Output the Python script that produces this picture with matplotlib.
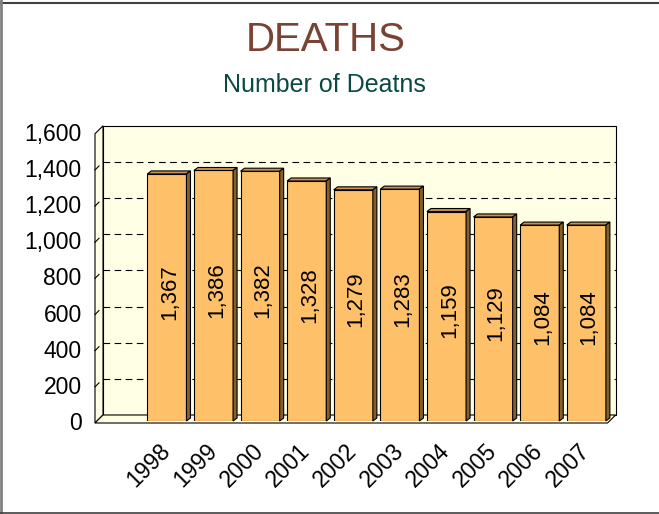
import matplotlib
matplotlib.use("Agg")
import matplotlib.pyplot as plt
from matplotlib.patches import Polygon
from matplotlib.lines import Line2D

plt.rcParams['font.family'] = ['Liberation Sans', 'DejaVu Sans']

years = ['1998', '1999', '2000', '2001', '2002', '2003', '2004', '2005', '2006', '2007']
deaths = [1367, 1386, 1382, 1328, 1279, 1283, 1159, 1129, 1084, 1084]
y_ticks = [0, 200, 400, 600, 800, 1000, 1200, 1400, 1600]

front_col = '#FFC06A'
top_col = '#C8914E'
side_col = '#85602F'
wall_col = '#FFFFE6'

W, H = 659, 514
fig = plt.figure(figsize=(W / 100, H / 100), dpi=100)
ax = fig.add_axes([97 / W, (H - 421) / H, 512.6 / W, 289.2 / H])
ax.set_xlim(-1.5, 9.5)
ax.set_ylim(0, 1600)
ax.patch.set_visible(False)
for s in ax.spines.values():
    s.set_visible(False)


def shifted(x, y, dx, dy):
    # move a data point by some pixels (for the 3d look)
    px, py = ax.transData.transform((x, y))
    return ax.transData.inverted().transform((px + dx, py + dy))


x0, x1 = -1.5, 9.5
front = (-2, -2)
back = (6, 6)

# back wall
ax.add_patch(Polygon([shifted(x0, 0, *back), shifted(x1, 0, *back),
                      shifted(x1, 1600, *back), shifted(x0, 1600, *back)],
                     closed=True, fc=wall_col, ec='black', lw=0.8, zorder=0, clip_on=False))
# left wall
ax.add_patch(Polygon([shifted(x0, 0, *front), shifted(x0, 0, *back),
                      shifted(x0, 1600, *back), shifted(x0, 1600, *front)],
                     closed=True, fc=wall_col, ec='black', lw=0.8, zorder=0, clip_on=False))
# floor
ax.add_patch(Polygon([shifted(x0, 0, *front), shifted(x1, 0, *front),
                      shifted(x1, 0, *back), shifted(x0, 0, *back)],
                     closed=True, fc=wall_col, ec='black', lw=0.8, zorder=0.5, clip_on=False))

# gridlines on the back wall + little ticks on the left wall
for t in y_ticks[1:-1]:
    a = shifted(x0, t, *back)
    b = shifted(x1, t, *back)
    ax.plot([a[0], b[0]], [a[1], b[1]], color='black', lw=0.8, ls=(0, (6, 4)),
            zorder=0.2, clip_on=False)
    c = shifted(x0, t, *front)
    d = shifted(x0, t, 2, 2)
    ax.plot([c[0], d[0]], [c[1], d[1]], color='black', lw=0.8, zorder=0.3, clip_on=False)

xs = list(range(len(deaths)))
w = 0.84
ax.bar(xs, deaths, width=w, color=front_col, edgecolor='black', lw=0.8, zorder=2)
for x, v in zip(xs, deaths):
    xl, xr = x - w / 2, x + w / 2
    top = [(xl, v), (xr, v), shifted(xr, v, 4, 3), shifted(xl, v, 4, 3)]
    side = [(xr, 0), (xr, v), shifted(xr, v, 4, 3), shifted(xr, 0, 4, 3)]
    ax.add_patch(Polygon(top, closed=True, fc=top_col, ec='black', lw=0.8, zorder=2.1, clip_on=False))
    ax.add_patch(Polygon(side, closed=True, fc=side_col, ec='black', lw=0.8, zorder=2.1, clip_on=False))
    ax.text(x + 0.06, v / 2 + 32, f'{v:,}', rotation=90, ha='center', va='center',
            fontsize=16, zorder=3)

ax.set_yticks(y_ticks)
ax.set_yticklabels([f'{t:,}' for t in y_ticks], fontsize=16.5)
ax.set_xticks(xs)
ax.set_xticklabels(years, fontsize=16.5, rotation=45, ha='right', va='center',
                   rotation_mode='anchor')
ax.tick_params(axis='y', length=0, pad=11)
ax.tick_params(axis='x', length=0, pad=19)

fig.text(326, H - 40, 'DEATHS', transform=None, ha='center', va='center',
         fontsize=29, color='#7A4232')
fig.text(324, H - 85, 'Number of Deatns', transform=None, ha='center', va='center',
         fontsize=18, color='#0B4A44')

# outer frame
fig.add_artist(Line2D([0, 1], [1 - 2.5 / H, 1 - 2.5 / H], color='#404040', lw=1.5))
fig.add_artist(Line2D([1 / W, 1 / W], [0, 1], color='#808080', lw=2))
fig.add_artist(Line2D([0, 1], [1.5 / H, 1.5 / H], color='#404040', lw=1.2))

fig.savefig('out.png', dpi=100)
